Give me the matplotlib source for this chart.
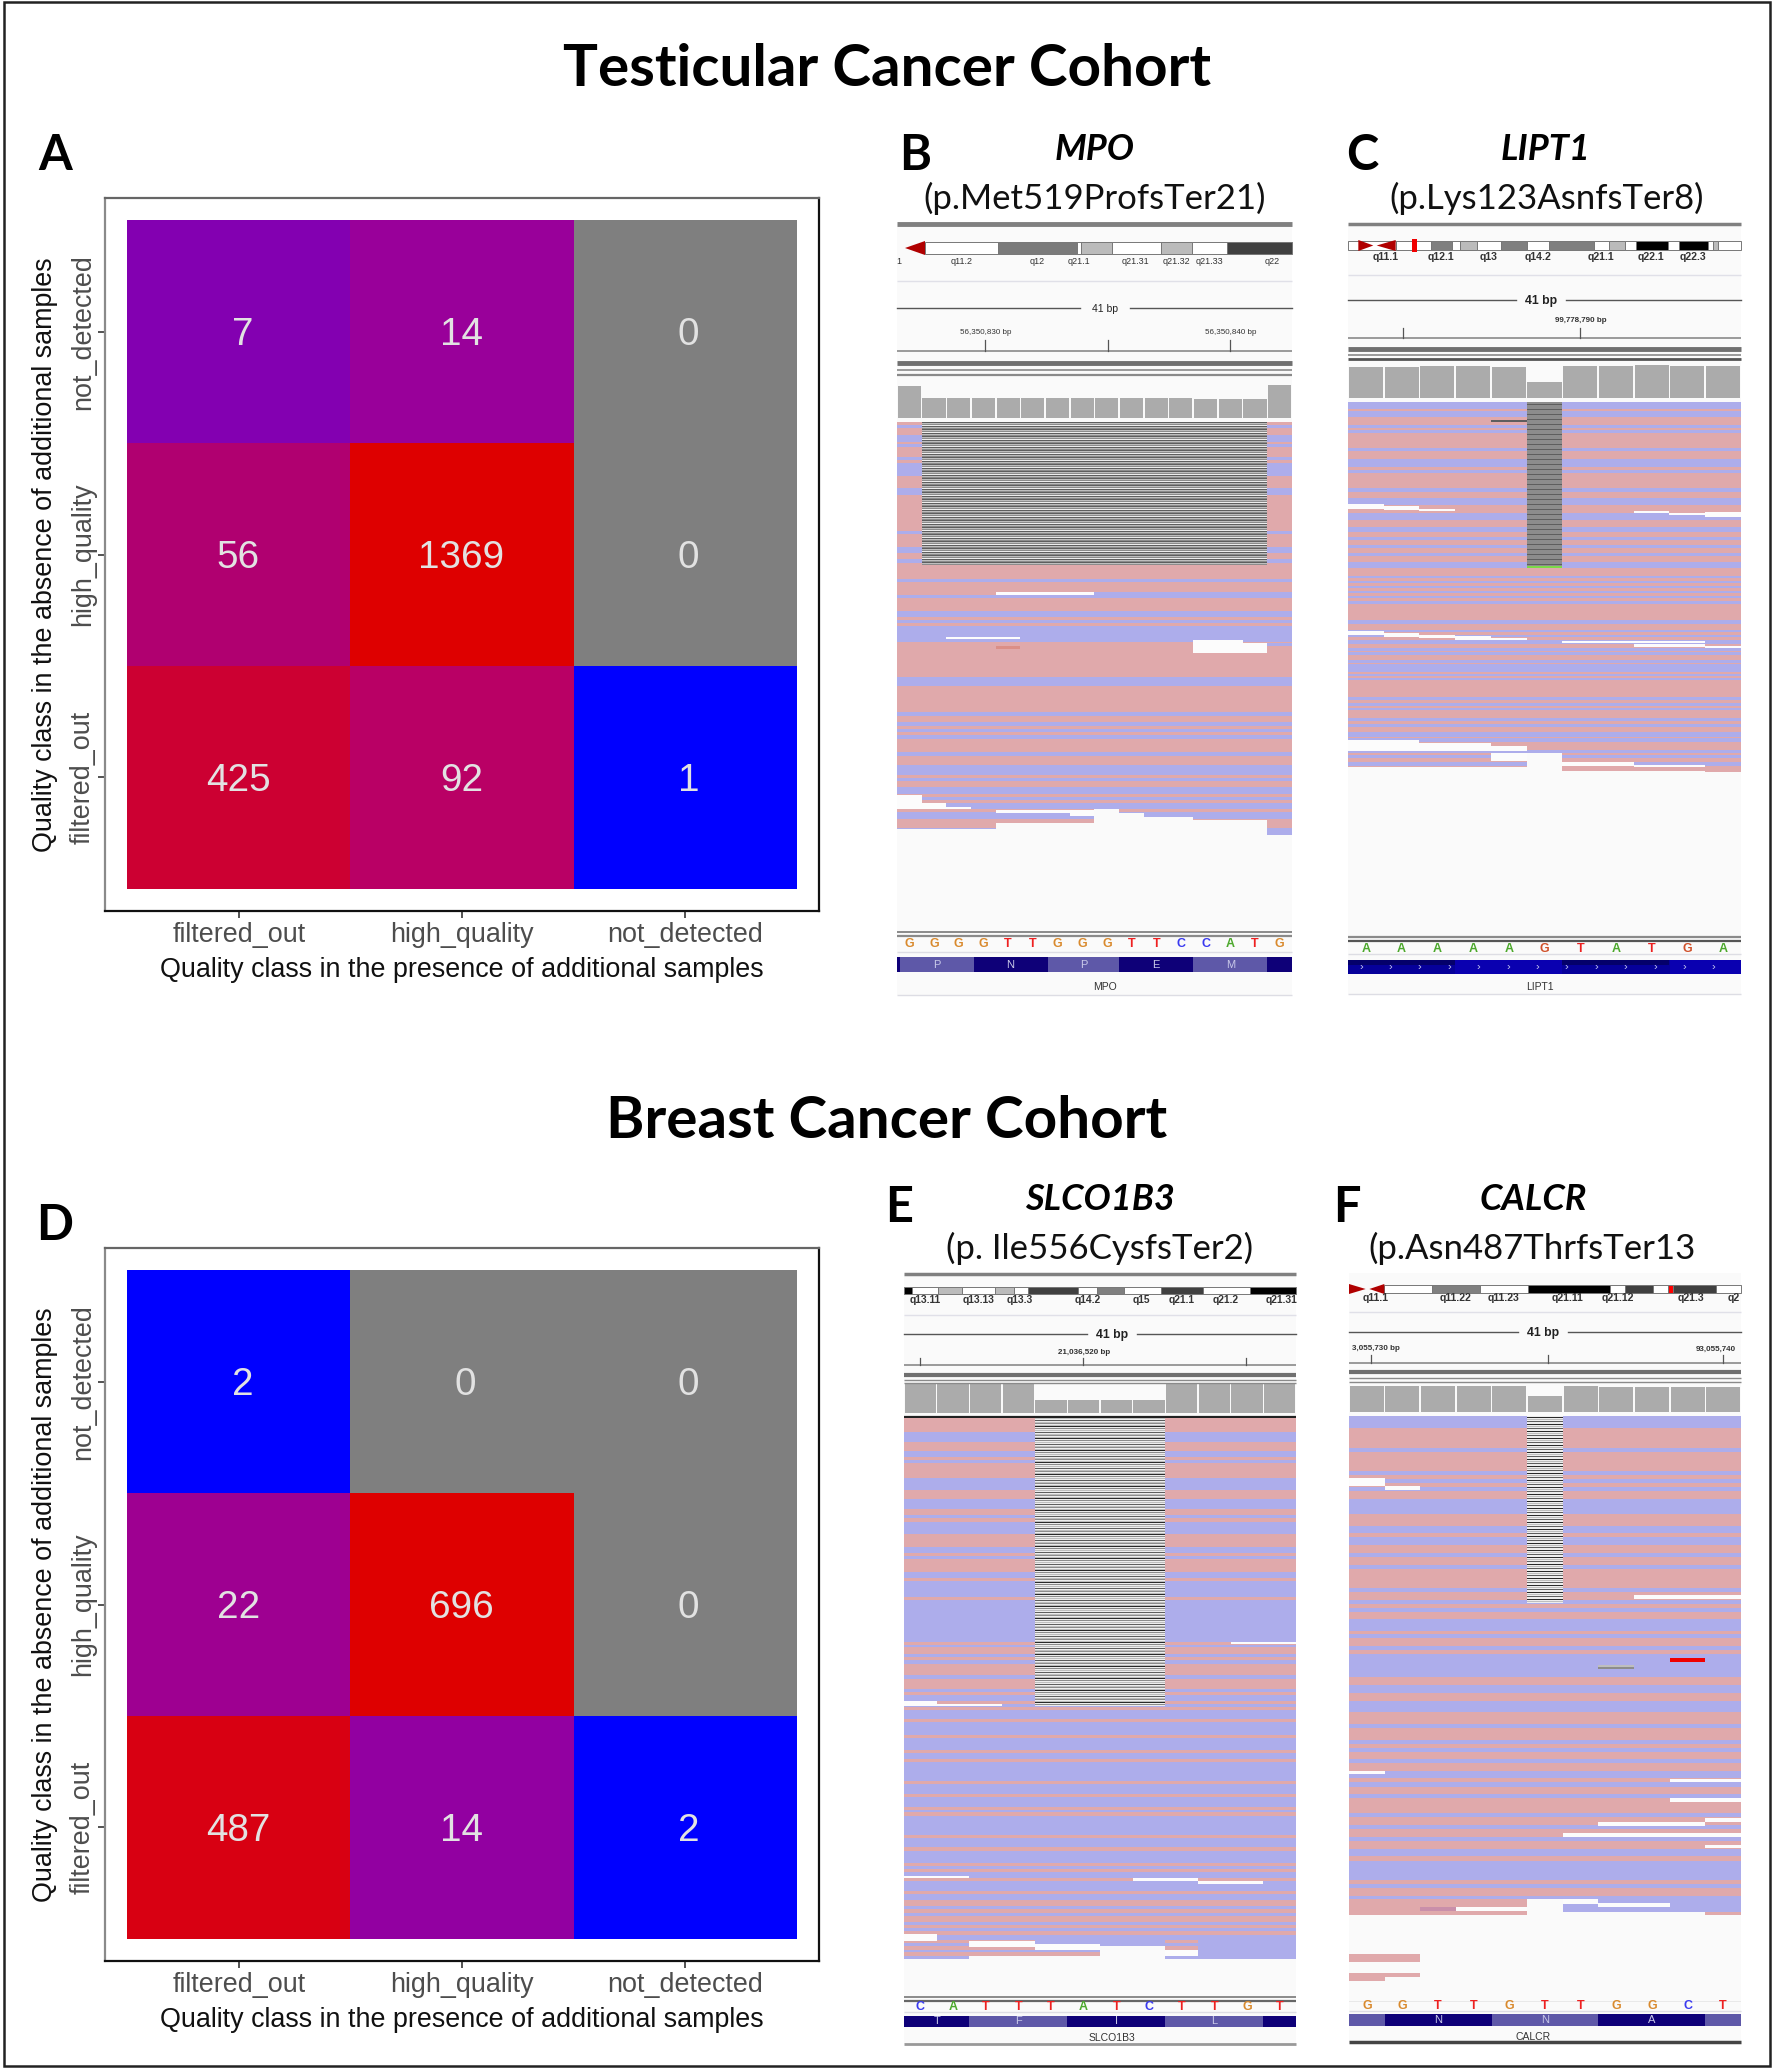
import matplotlib
matplotlib.use("Agg")
import matplotlib.pyplot as plt
import numpy as np
from matplotlib.colors import LinearSegmentedColormap, ListedColormap, LogNorm
from matplotlib.patches import Polygon, Rectangle

W, H = 1773, 2070

# Heatmap values, rows from bottom to top
classes = ["filtered_out", "high_quality", "not_detected"]
counts_a = [[425, 92, 1], [56, 1369, 0], [7, 14, 0]]
counts_d = [[487, 14, 2], [22, 696, 0], [2, 0, 0]]
xlabel_text = "Quality class in the presence of additional samples"
ylabel_text = "Quality class in the absence of additional samples"

# Read stacks: alternating run lengths (pixel rows) of forward/reverse reads
runs_b = [3, 3, 7, 7, 2, 3, 10, 3, 3, 13, 12, 7, 36, 3, 13, 6, 6, 4, 16, 3, 13, 3, 13, 6, 3, 3, 3, 16, 35, 9, 26,
          4, 6, 4, 3, 3, 3, 4, 13, 4, 9, 10, 3, 3, 6, 7, 3, 3, 3, 6, 3, 7, 9, 7]
runs_c = [7, 2, 6, 8, 3, 2, 3, 15, 3, 8, 8, 3, 3, 15, 4, 6, 7, 8, 7, 7, 5, 5, 3, 5, 3, 5, 3, 6, 6, 8,
          2, 3, 2, 3, 2, 3, 2, 3, 2, 3, 3, 16, 4, 6, 2, 3, 2, 3, 4, 4, 3, 1, 3, 5, 3, 1, 8, 2, 2, 2, 2, 17,
          3, 3, 3, 2, 2, 8, 3, 3, 3, 5, 5, 1, 4, 8, 3, 2, 3, 4, 4, 6]
runs_e = [14, 10, 9, 6, 3, 3, 15, 12, 9, 10, 6, 3, 4, 12, 13, 6, 3, 3, 13, 6, 3, 16, 3, 42, 3, 2, 7, 3, 3, 4, 11,
          4, 10, 3, 3, 6, 3, 3, 3, 9, 3, 13, 3, 12, 3, 6, 3, 19, 3, 10, 3, 10, 3, 2, 4, 19, 3, 9, 4, 12, 3, 3,
          3, 6, 3, 10, 3, 6, 6, 3, 4, 3, 6, 3, 3, 3, 4, 5, 3, 3, 4, 2, 4, 3]
runs_f = [12, 20, 4, 19, 4, 4, 4, 4, 4, 8, 15, 12, 7, 4, 8, 8, 4, 8, 4, 19, 4, 8, 4, 4, 4, 7, 12, 3, 4, 8, 4, 4,
          23, 8, 8, 8, 11, 12, 4, 12, 4, 4, 4, 7, 4, 8, 7, 4, 5, 7, 4, 15, 4, 8, 4, 8, 4, 8, 7, 5, 19, 4, 4, 8,
          3, 16]

# Last read row reached in each base column
depth_b = [407, 407, 407, 407, 401, 401, 401, 401, 387, 391, 395, 395, 398, 398, 398, 413]
depth_c = [365, 365, 365, 365, 365, 351, 369, 369, 369, 369, 370]
depth_e = [541, 541, 538, 538, 538, 538, 528, 528, 541, 541, 541, 541]
depth_f = [499, 499, 499, 499, 499, 483, 496, 496, 496, 496, 499]

# Coverage track heights
cov_b = [32, 20, 20, 20, 20, 20, 20, 20, 20, 20, 20, 20, 19, 19, 19, 33]
cov_c = [31, 31, 32, 32, 31, 16, 32, 32, 33, 32, 32]
cov_e = [29, 29, 29, 29, 13, 13, 13, 13, 29, 29, 29, 29]
cov_f = [26, 26, 26, 26, 26, 16, 26, 25, 25, 25, 25]

# Reference sequence
seq_b = "GGGGTTGGGTTCCATG"
seq_c = "AAAAAGTATGA"
seq_e = "CATTTATCTTGT"
seq_f = "GGTTGTTGGCT"

# Read-track overrides: row from, row to, base from, base to, kind
patches_b = [(373, 387, 0, 1, "gap"), (381, 387, 1, 2, "gap"), (385, 387, 2, 3, "gap"), (388, 391, 4, 7, "gap"),
             (388, 394, 7, 8, "gap"), (170, 173, 4, 8, "gap"), (170, 173, 8, 16, "rev"), (215, 217, 2, 5, "gap"),
             (218, 231, 12, 14, "gap"), (221, 231, 14, 15, "gap"), (221, 224, 15, 16, "rev"), (224, 227, 4, 5, "salmon")]
patches_c = [(229, 233, 0, 1, "gap"), (231, 235, 1, 2, "gap"), (233, 236, 2, 3, "gap"), (234, 238, 3, 4, "gap"),
             (236, 238, 4, 5, "gap"), (239, 241, 6, 10, "gap"), (242, 245, 8, 10, "gap"), (244, 246, 10, 11, "gap"),
             (338, 349, 0, 2, "gap"), (341, 349, 2, 4, "gap"), (344, 349, 4, 5, "gap"), (351, 359, 4, 5, "gap"),
             (360, 364, 6, 8, "gap"), (363, 365, 8, 10, "gap"), (102, 107, 0, 1, "gap"), (104, 108, 1, 2, "gap"),
             (107, 109, 2, 3, "gap"), (109, 111, 8, 9, "gap"), (111, 113, 9, 10, "gap"), (110, 115, 10, 11, "gap"),
             (18, 20, 4, 5, "dark"), (164, 166, 5, 6, "lime")]
patches_e = [(522, 541, 9, 12, "rev"), (538, 541, 8, 9, "rev"), (522, 528, 6, 8, "rev"), (522, 526, 4, 6, "rev"),
             (516, 523, 0, 1, "gap"), (523, 529, 2, 4, "gap"), (526, 532, 4, 6, "gap"), (532, 538, 8, 9, "gap"),
             (458, 460, 0, 2, "gap"), (460, 463, 7, 9, "gap"), (463, 466, 9, 11, "gap"), (224, 226, 10, 12, "gap"),
             (283, 288, 0, 1, "gap"), (286, 288, 1, 3, "gap")]
patches_f = [(483, 496, 6, 11, "rev"), (483, 488, 6, 7, "gap"), (487, 491, 7, 9, "gap"), (491, 495, 3, 5, "gap"),
             (491, 495, 2, 3, "mauve"), (538, 546, 0, 2, "fwd"), (557, 561, 0, 2, "fwd"), (561, 565, 0, 1, "fwd"),
             (62, 70, 0, 1, "gap"), (70, 74, 1, 2, "gap"), (355, 358, 0, 1, "gap"), (363, 366, 9, 11, "gap"),
             (382, 386, 9, 11, "gap"), (406, 410, 7, 10, "gap"), (402, 406, 10, 11, "gap"), (417, 421, 6, 11, "gap"),
             (429, 432, 10, 11, "gap"), (179, 183, 8, 11, "gap"), (249, 251, 7, 8, "light"), (251, 253, 7, 8, "mid"),
             (242, 246, 9, 10, "red")]

# Ideograms, measured as pixels from the left of the crop at 3x
ideo_b_edges = [135, 355, 592, 602, 695, 843, 937, 1040, 1237]
ideo_b_shades = ["white", "#7A7A7A", "white", "#BBBBBB", "white", "#BBBBBB", "white", "#404040"]
ideo_b_names = ["1", "q11.2", "q12", "q21.1", "q21.31", "q21.32", "q21.33", "q22"]
ideo_b_name_x = [55, 245, 472, 597, 767, 889, 987, 1177]
ideo_c_edges = [55, 197, 303, 365, 390, 440, 513, 592, 657, 793, 838, 885, 917, 1015, 1048, 1133, 1150, 1165, 1232]
ideo_c_shades = ["white", "white", "#7F7F7F", "white", "#BBBBBB", "white", "#7F7F7F", "white", "#7F7F7F", "white",
                 "#BBBBBB", "white", "black", "white", "black", "white", "#BBBBBB", "white"]
ideo_c_names = ["q11.1", "q12.1", "q13", "q14.2", "q21.1", "q22.1", "q22.3"]
ideo_c_name_x = [167, 333, 476, 623, 813, 963, 1088]
ideo_e_edges = [72, 95, 173, 247, 345, 401, 443, 595, 652, 732, 843, 970, 1110, 1248]
ideo_e_shades = ["black", "white", "#BBBBBB", "white", "#BBBBBB", "white", "#404040", "white", "#7F7F7F", "white",
                 "#404040", "white", "black"]
ideo_e_names = ["q13.11", "q13.13", "q13.3", "q14.2", "q15", "q21.1", "q21.2", "q21.31"]
ideo_e_name_x = [135, 296, 420, 622, 785, 905, 1038, 1203]
ideo_f_edges = [163, 307, 450, 594, 840, 885, 968, 1013, 1028, 1157, 1232]
ideo_f_shades = ["white", "#7F7F7F", "white", "black", "white", "#404040", "white", "#FF0000", "#404040", "white"]
ideo_f_names = ["q11.1", "q11.22", "q11.23", "q21.11", "q21.12", "q21.3", "q2"]
ideo_f_name_x = [138, 375, 520, 714, 862, 1083, 1210]

# Amino acid track: segment edges in bases, letters at segment centres
aa_b_edges = [0, 0.13, 3.1, 6.1, 9, 12, 15, 16]
aa_b_names = ["", "P", "N", "P", "E", "M", ""]
aa_c_edges = [0, 3, 6, 9, 11]
aa_c_names = ["", "", "", ""]
aa_e_edges = [0, 2, 5, 8, 11, 12]
aa_e_names = ["T", "F", "I", "L", ""]
aa_f_edges = [0, 1, 4, 7, 10, 11]
aa_f_names = ["", "N", "N", "A", ""]

PINK, BLUE, PANEL_BG = "#E0A9AB", "#ADADEB", "#FAFAFA"
BASE_COLORS = {"A": "#4CA82C", "C": "#3A3AF0", "G": "#D98A2E", "T": "#EE2020"}

# Codes for read matrix
kinds = {"bg": 0, "fwd": 1, "rev": 2, "gap": 3, "mauve": 4, "salmon": 5, "black": 6, "dark": 7, "mid": 8,
         "light": 9, "pale": 10, "lime": 11, "red": 12}
read_cmap = ListedColormap([PANEL_BG, PINK, BLUE, "#FCFCFC", "#C98FAA", "#DB8F88", "#2A2A2A", "#5E5E5E", "#8C8C8C",
                            "#BEBEBE", "#EDEDED", "#7CD94A", "#F00000"])

heat_cmap = LinearSegmentedColormap.from_list("blue_red", [
    (0, "#0000FF"), (0.27, "#8500B0"), (0.365, "#99009A"), (0.56, "#B0006F"),
    (0.625, "#B90066"), (0.835, "#CC0033"), (1, "#DE0000")])
heat_cmap.set_bad("#7F7F7F")

plt.rcParams["font.family"] = ["Liberation Sans", "DejaVu Sans"]
fig = plt.figure(figsize=(W / 100, H / 100), dpi=100, facecolor="white")

# Full-figure canvas in pixel coordinates for everything that is not a heatmap
canvas = fig.add_axes([0, 0, 1, 1])
canvas.set_axis_off()


def heatmap(values, vmin, vmax, top):
    ax = fig.add_axes([105 / W, 1 - (top + 713) / H, 714 / W, 713 / H])
    data = np.array(values, dtype=float)
    masked = np.ma.masked_where(data <= 0, data)
    ax.pcolormesh(np.arange(4) + 0.5, np.arange(4) + 0.5, masked, cmap=heat_cmap, norm=LogNorm(vmin, vmax))
    for r, row in enumerate(values):
        for c, v in enumerate(row):
            # single digits sit a little right of centre in the original
            shift = 0.016 if v < 10 else -0.002
            ax.text(c + 1 + shift, r + 1 - 0.016, str(v), ha="center", va="center", color="#E2E2E2", fontsize=27.8)
    ax.set_xlim(0.4, 3.6)
    ax.set_ylim(0.4, 3.6)
    ax.set_xticks([1, 2, 3], classes)
    ax.set_yticks([1, 2, 3], classes, rotation=90, va="center")
    ax.tick_params(length=5, width=1.3, color="#444444", labelcolor="#4D4D4D", labelsize=19.4, pad=3)
    ax.tick_params(axis="y", pad=1.5)
    ax.set_xlabel(xlabel_text, fontsize=19.4, color="#111111")
    ax.set_ylabel(ylabel_text, fontsize=19.4, color="#111111")
    ax.xaxis.set_label_coords(0.5, -0.0645)
    ax.yaxis.set_label_coords(-0.066, 0.5)
    for side, col in zip(["left", "top", "right", "bottom"], ["#8A8A8A", "#666666", "#111111", "#111111"]):
        ax.spines[side].set_color(col)
        ax.spines[side].set_linewidth(1.6)
    return ax


def read_matrix(runs, first, depth, patches, del_span, del_rows, del_cycle, n_rows):
    mat = np.zeros((n_rows, len(depth)), dtype=int)
    col = np.zeros(n_rows, dtype=int)
    pos, code = 0, kinds[first]
    for run in runs:
        col[pos:pos + run] = code
        pos += run
        code = kinds["rev"] if code == kinds["fwd"] else kinds["fwd"]
    for b, d in enumerate(depth):
        mat[:d, b] = col[:d]
    for r in range(del_rows):
        mat[r, del_span[0]:del_span[1]] = kinds[del_cycle[r % len(del_cycle)]]
    for r0, r1, b0, b1, kind in patches:
        mat[r0:r1, b0:b1] = kinds[kind]
    return mat


def igv_panel(p):
    x0, x1 = p["x"]
    left = p["crop_x"]
    n = len(p["seq"])
    bw = (x1 - x0) / n
    canvas.add_patch(Rectangle((x0, p["bg_top"]), x1 - x0, p["bg_bottom"] - p["bg_top"], color=PANEL_BG, lw=0))

    # separators
    for y, lw, c in p["lines"]:
        canvas.plot([x0, x1], [y, y], color=c, lw=lw, solid_capstyle="butt")

    # ideogram
    y0, y1 = p["ideo_y"]
    edges = p["ideo_edges"]
    for e0, e1, shade in zip(edges[:-1], edges[1:], p["ideo_shades"]):
        canvas.add_patch(Rectangle((left + e0 / 3, y0), (e1 - e0) / 3, y1 - y0, fc=shade, ec="#777777", lw=0.7))
    ym = (y0 + y1) / 2
    for a, b in p["centromere"]:
        canvas.add_patch(Polygon([(left + a / 3, ym), (left + b / 3, y0 - 1), (left + b / 3, y1 + 1)], color="#B00000", lw=0))
    for a, b in p.get("marker", []):
        canvas.add_patch(Rectangle((left + a / 3, y0 - 2), (b - a) / 3, y1 - y0 + 4, color="#F00000", lw=0))
    for name, zx in zip(p["ideo_names"], p["ideo_name_x"]):
        canvas.text(left + zx / 3, p["ideo_label_y"], name, ha="center", va="center", fontsize=p["ideo_size"], color="#333333",
                    fontweight=p["weight"])

    # ruler
    yb = p["ruler_y"]
    xm = p["bp_x"]
    canvas.plot([x0, xm - 25], [yb, yb], color="#555555", lw=1)
    canvas.plot([xm + 25, x1], [yb, yb], color="#555555", lw=1)
    canvas.text(xm, yb + 1, "41 bp", ha="center", va="center", fontsize=p["bp_size"], color="#222222", fontweight=p["weight"])
    for tx in p["ticks_x"]:
        canvas.plot([tx, tx], p["tick_y"], color="#555555", lw=0.9)
    for tx, lab in p["tick_labels"]:
        canvas.text(tx, p["tick_label_y"], lab, ha="center", va="center", fontsize=5.8, color="#333333", fontweight=p["weight"])

    # coverage
    cx = x0 + bw * (np.arange(n) + 0.5)
    canvas.bar(cx, -np.array(p["cov"]), width=bw - 1.6, bottom=p["cov_y"], color="#ABABAB", lw=0)

    # reads
    mat = read_matrix(p["runs"], p["first"], p["depth"], p["patches"], p["del_span"], p["del_rows"], p["del_cycle"], p["n_rows"])
    top = p["reads_y"]
    canvas.imshow(mat, cmap=read_cmap, vmin=-0.5, vmax=12.5, interpolation="nearest", aspect="auto",
                  extent=(x0, x1, top + p["n_rows"], top), zorder=2)

    # sequence
    for xc, base in zip(cx, p["seq"]):
        color = "#D0502A" if base == "G" and p["red_g"] else BASE_COLORS[base]
        canvas.text(xc, p["seq_y"], base, ha="center", va="center", fontsize=9, color=color, fontweight="bold")

    # amino acids
    y0, y1 = p["aa_y"]
    aa_edges = p["aa_edges"]
    for i, (e0, e1, name) in enumerate(zip(aa_edges[:-1], aa_edges[1:], p["aa_names"])):
        dark = (i % 2 == 0) == p["aa_first_dark"]
        shade = p["aa_colors"][0] if dark else p["aa_colors"][1]
        canvas.add_patch(Rectangle((x0 + e0 * bw, y0), (e1 - e0) * bw, y1 - y0, color=shade, lw=0))
        if name:
            canvas.text(x0 + (e0 + e1) / 2 * bw, (y0 + y1) / 2, name, ha="center", va="center", fontsize=8, color="#C8C8E8")
    canvas.text(p["gene_x"], p["gene_y"], p["gene"], ha="center", va="center", fontsize=7.5, color="#333333")

    # titles
    canvas.text(p["title_x"], p["title_y"] + 2, p["gene"], ha="center", va="center", fontsize=26, style="italic",
                fontweight="bold", family="Lato", color="black")
    canvas.text(p["sub_x"], p["sub_y"] + 3, p["sub"], ha="center", va="center", fontsize=25, family="Lato", color="#111111")


heatmap(counts_a, 1, 1369, 198)
heatmap(counts_d, 2, 696, 1248)

GR = "#8A8A8A"
panels = [
    dict(x=(897, 1292), crop_x=880, bg_top=224, bg_bottom=995, gene="MPO", sub="(p.Met519ProfsTer21)",
         lines=[(224, 3.5, "#808080"), (281, 1, "#E0E0E8"), (351, 1.2, GR), (363, 3.5, "#707070"), (370, 1.2, GR), (375, 1.6, GR),
                (932, 1.4, GR), (936, 1.6, GR), (952, 1, "#DDDDE4"), (995, 1, "#DDDDE4")],
         ideo_y=(242, 254), ideo_edges=ideo_b_edges, ideo_shades=ideo_b_shades, centromere=[(75, 135)],
         ideo_names=ideo_b_names, ideo_name_x=ideo_b_name_x, ideo_label_y=261, weight="normal", ideo_size=6.5, bp_size=7.5,
         ruler_y=308, bp_x=1105, ticks_x=[985, 1108, 1230], tick_y=(340, 351), tick_label_y=332,
         tick_labels=[(986, "56,350,830 bp"), (1231, "56,350,840 bp")],
         cov=cov_b, cov_y=418, reads_y=422, runs=runs_b, first="fwd", depth=depth_b, patches=patches_b,
         del_span=(1, 15), del_rows=143, del_cycle=["dark", "light", "mid", "pale", "dark", "light", "mid"], n_rows=430,
         seq=seq_b, seq_y=944, red_g=False, aa_y=(957, 972), aa_edges=aa_b_edges, aa_names=aa_b_names, aa_first_dark=True,
         aa_colors=("#0E0078", "#5E58A8"), gene_x=1105, gene_y=987, title_x=1095, title_y=148, sub_x=1095, sub_y=195),
    dict(x=(1348, 1741), crop_x=1330, bg_top=224, bg_bottom=994, gene="LIPT1", sub="(p.Lys123AsnfsTer8)",
         lines=[(224, 2.5, "#808080"), (275, 1, "#E0E0E8"), (338, 1.2, GR), (349, 3.5, "#707070"), (355, 1.2, GR), (359, 2, "#555555"),
                (937, 1.6, GR), (941, 1.6, "#555555"), (954, 1, "#DDDDE4"), (994, 1, "#DDDDE4")],
         ideo_y=(241, 250), ideo_edges=ideo_c_edges, ideo_shades=ideo_c_shades, centromere=[(130, 85), (140, 197)],
         marker=[(246, 260)],
         ideo_names=ideo_c_names, ideo_name_x=ideo_c_name_x, ideo_label_y=257, weight="bold", ideo_size=7.6, bp_size=8.8,
         ruler_y=300, bp_x=1541, ticks_x=[1403, 1580], tick_y=(328, 338), tick_label_y=321,
         tick_labels=[(1581, "99,778,790 bp")],
         cov=cov_c, cov_y=398, reads_y=402, runs=runs_c, first="rev", depth=depth_c, patches=patches_c,
         del_span=(5, 6), del_rows=166, del_cycle=["mid", "mid", "dark", "mid", "mid"], n_rows=380,
         seq=seq_c, seq_y=949, red_g=True, aa_y=(960, 974), aa_edges=aa_c_edges, aa_names=aa_c_names, aa_first_dark=True,
         aa_colors=("#06009A", "#0A00B0"), gene_x=1540, gene_y=987, title_x=1546, title_y=148, sub_x=1547, sub_y=195),
    dict(x=(904, 1296), crop_x=880, bg_top=1274, bg_bottom=2044, gene="SLCO1B3", sub="(p. Ile556CysfsTer2)",
         lines=[(1274, 2.5, "#808080"), (1315, 1, "#E0E0E8"), (1365, 1.2, GR), (1375, 3, "#707070"), (1380, 1, GR), (1383, 1, GR),
                (1417, 1.6, "#222222"), (1997, 1.4, GR), (2001, 1.6, "#666666"), (2012, 1, "#DDDDE4"), (2044, 2, "#999999")],
         ideo_y=(1287, 1294), ideo_edges=ideo_e_edges, ideo_shades=ideo_e_shades, centromere=[],
         ideo_names=ideo_e_names, ideo_name_x=ideo_e_name_x, ideo_label_y=1300, weight="bold", ideo_size=7.4, bp_size=8.8,
         ruler_y=1334, bp_x=1112, ticks_x=[920, 1083, 1246], tick_y=(1358, 1365), tick_label_y=1352,
         tick_labels=[(1084, "21,036,520 bp")],
         cov=cov_e, cov_y=1413, reads_y=1418, runs=runs_e, first="fwd", depth=depth_e, patches=patches_e,
         del_span=(4, 8), del_rows=288, del_cycle=["light", "pale", "dark", "pale", "light", "mid", "pale", "light", "black", "pale", "mid", "pale"], n_rows=545,
         seq=seq_e, seq_y=2007, red_g=False, aa_y=(2016, 2027), aa_edges=aa_e_edges, aa_names=aa_e_names, aa_first_dark=True,
         aa_colors=("#0E0078", "#5E58A8"), gene_x=1112, gene_y=2038, title_x=1100, title_y=1198, sub_x=1100, sub_y=1245),
    dict(x=(1349, 1741), crop_x=1330, bg_top=1273, bg_bottom=2042, gene="CALCR", sub="(p.Asn487ThrfsTer13",
         lines=[(1312, 1, "#E0E0E8"), (1363, 1.2, GR), (1372, 3, "#707070"), (1378, 1, GR), (1382, 1, GR),
                (1996, 1.4, GR), (2000, 1.6, "#666666"), (2011, 1, "#DDDDE4"), (2042, 2.5, "#444444")],
         ideo_y=(1285, 1293), ideo_edges=ideo_f_edges, ideo_shades=ideo_f_shades, centromere=[(107, 57), (118, 163)],
         ideo_names=ideo_f_names, ideo_name_x=ideo_f_name_x, ideo_label_y=1298, weight="bold", ideo_size=7.6, bp_size=8.8,
         ruler_y=1332, bp_x=1543, ticks_x=[1371, 1548, 1723], tick_y=(1355, 1363), tick_label_y=1349,
         tick_labels=[(1376, "3,055,730 bp"), (1716, "93,055,740")],
         cov=cov_f, cov_y=1412, reads_y=1416, runs=runs_f, first="rev", depth=depth_f, patches=patches_f,
         del_span=(5, 6), del_rows=187, del_cycle=["pale", "black", "pale", "light", "pale", "dark", "pale"], n_rows=585,
         seq=seq_f, seq_y=2006, red_g=False, aa_y=(2014, 2026), aa_edges=aa_f_edges, aa_names=aa_f_names, aa_first_dark=False,
         aa_colors=("#0E0078", "#5E58A8"), gene_x=1533, gene_y=2037, title_x=1533, title_y=1198, sub_x=1532, sub_y=1245),
]
for panel in panels:
    igv_panel(panel)

# Chevrons and darker segments on the LIPT1 gene track
for e0, e1 in [(0, 3), (6, 9)]:
    canvas.add_patch(Rectangle((1348 + e0 * 35.7, 960), (e1 - e0) * 35.7, 5, color="#04006A", lw=0))
for i in range(13):
    canvas.text(1361 + i * 29.4, 967, "\u203a", ha="center", va="center", fontsize=8, color="#C8C8F0")

# Headings and panel letters
for txt, y in [("Testicular Cancer Cohort", 70), ("Breast Cancer Cohort", 1121)]:
    canvas.text(887, y, txt, ha="center", va="center", fontsize=42, fontweight="bold", family="Lato", color="black")
letters = ["A", "B", "C", "D", "E", "F"]
letter_x = [55, 915, 1362, 55, 899, 1347]
letter_y = [156, 156, 156, 1225, 1208, 1208]
for t, lx, ly in zip(letters, letter_x, letter_y):
    canvas.text(lx, ly, t, ha="center", va="center", fontsize=35, fontweight="bold", family="Lato", color="black")

# Outer frame
canvas.add_patch(Rectangle((4, 2), 1766, 2064, fc="none", ec="#222222", lw=1.8))

canvas.set_xlim(0, W)
canvas.set_ylim(H, 0)
fig.savefig("out.png", dpi=100)
